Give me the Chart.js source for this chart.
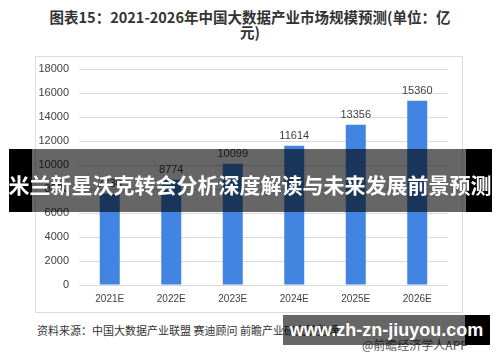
<!DOCTYPE html>
<html><head><meta charset="utf-8">
<script src="https://cdn.jsdelivr.net/npm/chart.js@4/dist/chart.umd.min.js"></script>
<style>
body{margin:0;background:#fff;width:500px;height:362px;position:relative;overflow:hidden;font-family:"Noto Sans CJK SC","Noto Sans",sans-serif;}
#title{position:absolute;left:30px;top:9px;width:440px;text-align:center;font-weight:bold;font-size:14.5px;line-height:15px;color:#333;}
#frame{position:absolute;left:35px;top:56px;width:426px;height:255px;border:1px solid #dcdcdc;}
#c{display:block;}
.blk{position:absolute;background:#000;}
.gry{position:absolute;background:rgba(0,0,0,0.6);}
#bantext{position:absolute;left:0;width:500px;top:170px;text-align:center;color:#fff;font-weight:bold;font-size:21px;line-height:28px;white-space:nowrap;}
#src{position:absolute;left:37px;top:322px;font-size:11px;color:#333;white-space:nowrap;}
#app{position:absolute;left:362px;top:336px;font-size:12px;color:#555;white-space:nowrap;}
#url{position:absolute;left:283px;top:315px;width:207px;height:30px;line-height:30px;text-align:center;color:#fff;font-weight:bold;font-size:18px;font-family:"Liberation Sans",Arial,sans-serif;white-space:nowrap;}
</style></head><body>
<div id="title">图表15：2021-2026年中国大数据产业市场规模预测(单位：亿<br>元)</div>
<div id="frame"><canvas id="c" width="426" height="255"></canvas></div>
<div id="src">资料来源：中国大数据产业联盟 赛迪顾问 前瞻产业研究院整理</div>
<div id="app">@前瞻经济学人APP</div>
<div class="blk" style="left:9px;top:149px;width:23px;height:63px;"></div>
<div class="gry" style="left:32px;top:149px;width:434px;height:63px;"></div>
<div class="blk" style="left:466px;top:149px;width:26px;height:63px;"></div>
<div id="bantext">米兰新星沃克转会分析深度解读与未来发展前景预测</div>
<div class="gry" style="left:283px;top:315px;width:182px;height:30px;"></div>
<div class="blk" style="left:465px;top:315px;width:25px;height:30px;"></div>
<div id="url">www.zh-zn-jiuyou.com</div>
<script>
const categories = ["2021E","2022E","2023E","2024E","2025E","2026E"];
const marketSize = [7630, 8774, 10099, 11614, 13356, 15360];
const yTicks = [0,2000,4000,6000,8000,10000,12000,14000,16000,18000];

const labelPlugin = {
  id:'lbl',
  afterDatasetsDraw(chart){
    const ctx = chart.ctx;
    const meta = chart.getDatasetMeta(0);
    ctx.save();
    ctx.font = '11px "Liberation Sans", Arial, sans-serif';
    ctx.fillStyle = '#404040';
    ctx.textAlign = 'center';
    ctx.textBaseline = 'bottom';
    meta.data.forEach((bar,i)=>{
      ctx.fillText(String(marketSize[i]), bar.x, bar.y - 4);
    });
    ctx.restore();
  }
};

new Chart(document.getElementById('c'), {
  type:'bar',
  data:{labels:categories, datasets:[{data:marketSize, backgroundColor:'#4284E2', barPercentage:0.65, categoryPercentage:0.5}]},
  options:{
    responsive:false, animation:false,
    layout:{padding:{top:12,right:14,bottom:0,left:0}},
    plugins:{legend:{display:false}, tooltip:{enabled:false}},
    scales:{
      x:{grid:{display:false, drawTicks:false}, border:{display:false},
         afterFit(s){ s.height = 27; s.paddingLeft = 0; s.paddingRight = 0; },
         ticks:{color:'#404040', padding:8, maxRotation:0, font:{size:10, family:'"Liberation Sans", Arial, sans-serif'}}},
      y:{min:0,max:18000,
         afterBuildTicks(s){ s.ticks = yTicks.map(v=>({value:v})); },
         afterFit(s){ s.width = 43; s.paddingTop = 0; s.paddingBottom = 0; },
         grid:{color:'#d9d9d9', drawTicks:false}, border:{display:false},
         ticks:{color:'#404040', padding:10, callback:v=>String(v), font:{size:11, family:'"Liberation Sans", Arial, sans-serif'}}}
    }
  },
  plugins:[labelPlugin]
});
</script>
</body></html>
